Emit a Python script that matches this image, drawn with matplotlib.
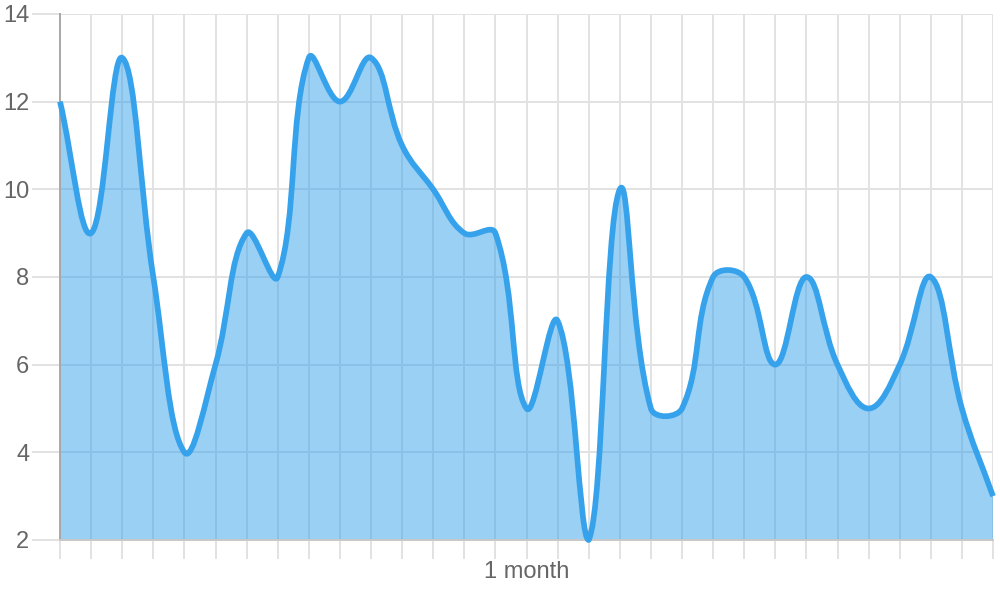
import numpy as np
import matplotlib
matplotlib.use("Agg")
import matplotlib.pyplot as plt
from matplotlib.path import Path
from matplotlib.patches import PathPatch

# one value per day
days = list(range(31))
values = [12, 9, 13, 8, 4, 6, 9, 8, 13, 12, 13, 11, 10, 9, 9, 5,
          7, 2, 10, 5, 5, 8, 8, 6, 8, 6, 5, 6, 8, 5, 3]
tick_labels = [""] * 31
tick_labels[15] = "1 month"
y_ticks = [2, 4, 6, 8, 10, 12, 14]

line_color = "#36A2EB"
fill_color = (54/255, 162/255, 235/255, 0.5)
grid_color = "#e2e2e2"
text_color = "#666666"
tension = 0.4

plt.rcParams["font.family"] = ["Liberation Sans", "DejaVu Sans"]

fig = plt.figure(figsize=(10, 6), dpi=100)
ax = fig.add_axes([0.060, 0.100, 0.933, 0.8767])
ax.set_xlim(days[0], days[-1])
ax.set_ylim(2, 14)

# spline like chart.js: control points computed in pixel space
pts = ax.transData.transform(np.column_stack([days, values]))
bb = ax.bbox
n = len(pts)
cp_prev = np.zeros_like(pts)
cp_next = np.zeros_like(pts)
for i in range(n):
    prev = pts[i - 1] if i > 0 else pts[i]
    cur = pts[i]
    nxt = pts[i + 1] if i < n - 1 else pts[i]
    d01 = np.hypot(*(cur - prev))
    d12 = np.hypot(*(nxt - cur))
    tot = d01 + d12
    s01 = d01 / tot if tot else 0
    s12 = d12 / tot if tot else 0
    cp_prev[i] = cur - tension * s01 * (nxt - prev)
    cp_next[i] = cur + tension * s12 * (nxt - prev)
for cp in (cp_prev, cp_next):
    cp[:, 0] = np.clip(cp[:, 0], bb.x0, bb.x1)
    cp[:, 1] = np.clip(cp[:, 1], bb.y0, bb.y1)

inv = ax.transData.inverted()
pts_d = inv.transform(pts)
cpp_d = inv.transform(cp_prev)
cpn_d = inv.transform(cp_next)

verts = [pts_d[0]]
codes = [Path.MOVETO]
for i in range(n - 1):
    verts += [cpn_d[i], cpp_d[i + 1], pts_d[i + 1]]
    codes += [Path.CURVE4] * 3
line_path = Path(verts, codes)

fill_verts = verts + [(days[-1], 2), (days[0], 2), pts_d[0]]
fill_codes = codes + [Path.LINETO, Path.LINETO, Path.CLOSEPOLY]
fill_path = Path(fill_verts, fill_codes)

ax.add_patch(PathPatch(fill_path, facecolor=fill_color, edgecolor="none", zorder=2))
ax.add_patch(PathPatch(line_path, facecolor="none", edgecolor=line_color,
                       linewidth=4.1, capstyle="butt", joinstyle="round",
                       zorder=3, clip_on=False))

# grid and axes
ax.set_xticks(days)
ax.set_xticklabels(tick_labels)
ax.set_yticks(y_ticks)
ax.grid(True, color=grid_color, linewidth=1.4, zorder=0)
ax.set_axisbelow(True)
for s in ["top", "right"]:
    ax.spines[s].set_visible(False)
ax.spines["left"].set_color("#a8a8a8")
ax.spines["left"].set_linewidth(1.4)
ax.spines["bottom"].set_color("#c8c8c8")
ax.spines["bottom"].set_linewidth(1.4)
ax.tick_params(axis="x", length=14, width=1.4, color=grid_color,
               labelsize=17, labelcolor=text_color, pad=1)
ax.tick_params(axis="y", length=20, width=1.4, color=grid_color,
               labelsize=17, labelcolor=text_color, pad=2)
ax.xaxis.get_major_ticks()[0].tick1line.set_color("#a8a8a8")
ax.set_zorder(1)

fig.savefig("out.png", dpi=100)
